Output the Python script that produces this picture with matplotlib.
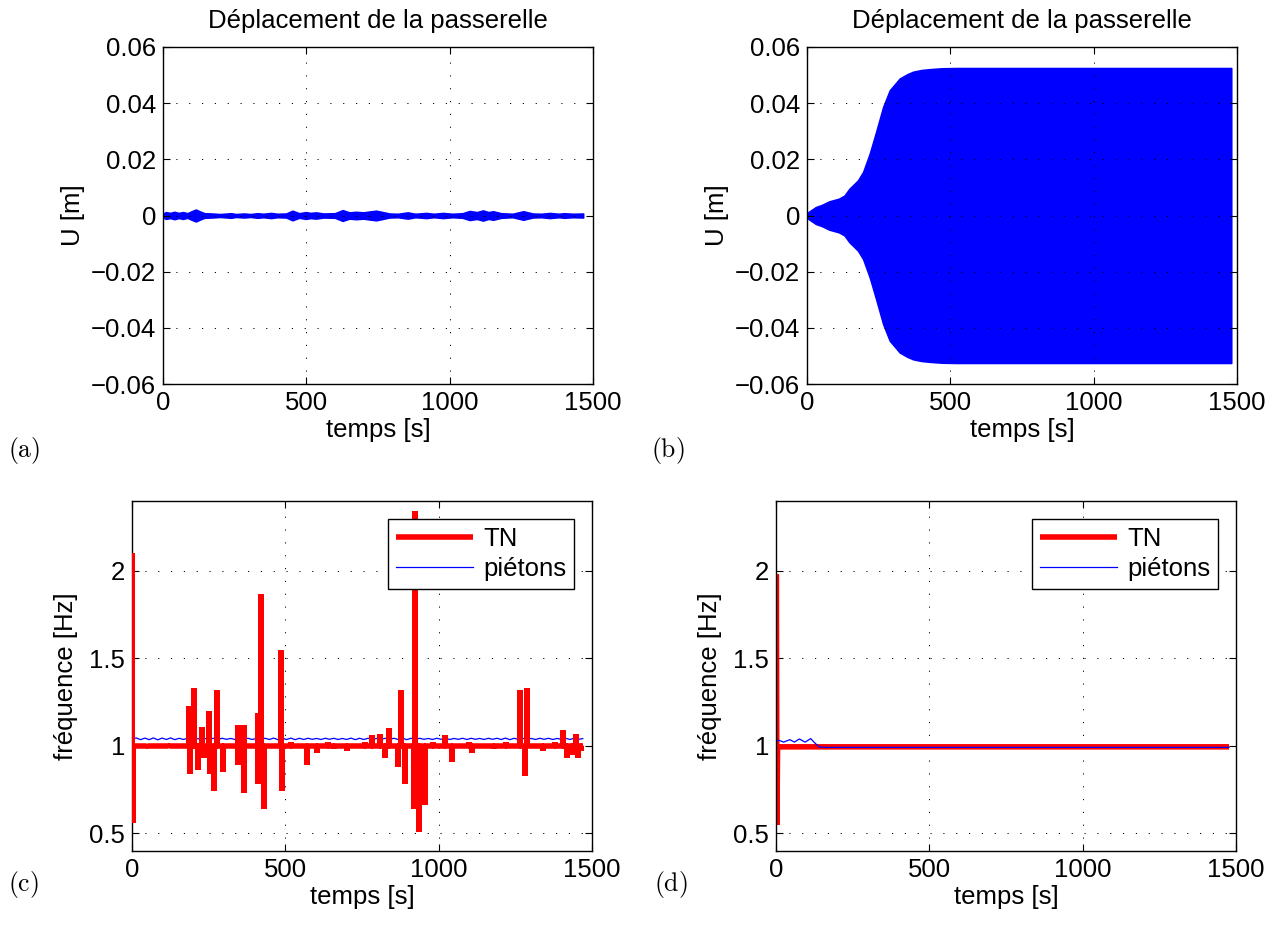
import numpy as np
import matplotlib
matplotlib.use("Agg")
import matplotlib.pyplot as plt

plt.rcParams["font.family"] = ["Liberation Sans", "DejaVu Sans"]
plt.rcParams["mathtext.fontset"] = "cm"

# (a) displacement envelope (time [s], amplitude [m])
env_a_t = [0, 10, 25, 40, 55, 70, 85, 100, 115, 130, 145, 170, 200, 237, 255, 283, 305,
           330, 350, 377, 400, 430, 452, 475, 499, 515, 534, 560, 600, 627, 650, 674,
           700, 720, 744, 767, 790, 820, 854, 880, 919, 945, 977, 1010, 1045, 1070,
           1095, 1117, 1135, 1152, 1180, 1220, 1257, 1290, 1320, 1350, 1380, 1400,
           1430, 1466]
env_a_amp = [0.0006, 0.0012, 0.0009, 0.0013, 0.0009, 0.0012, 0.0008, 0.0015, 0.0021,
             0.0014, 0.0008, 0.0007, 0.0005, 0.0008, 0.0005, 0.0007, 0.0005, 0.0008,
             0.0006, 0.0009, 0.0006, 0.0007, 0.0017, 0.0008, 0.0012, 0.0009, 0.0011,
             0.0007, 0.0008, 0.0019, 0.0011, 0.0013, 0.0011, 0.0014, 0.0017, 0.0012,
             0.0007, 0.0006, 0.0011, 0.0006, 0.0009, 0.0006, 0.0009, 0.0006, 0.0008,
             0.0016, 0.0012, 0.0018, 0.0012, 0.0015, 0.0008, 0.0006, 0.0015, 0.0007,
             0.0006, 0.0009, 0.0006, 0.0008, 0.0006, 0.0007]

# (b) displacement envelope (time [s], amplitude [m])
env_b_t = [0, 5, 31, 53, 77, 112, 131, 148, 178, 196, 219, 242, 266, 289, 324, 350,
           371, 400, 429, 470, 522, 1000, 1480]
env_b_amp = [0.0, 0.0012, 0.003, 0.0038, 0.005, 0.006, 0.0071, 0.0095, 0.0125, 0.0155,
             0.022, 0.030, 0.0387, 0.0446, 0.0488, 0.0503, 0.0512, 0.0518, 0.0521,
             0.0524, 0.0525, 0.0525, 0.0525]

# (c) TN frequency: base level and spikes (time [s], frequency [Hz])
tn_c_base = 1.0
tn_c_end = 1470
tn_c_spike_t = [1, 3, 50, 120, 187, 190, 201, 216, 228, 236, 252, 254, 267, 276, 297,
                345, 347, 364, 366, 410, 412, 420, 430, 486, 488, 520, 572, 602, 640,
                660, 700, 760, 782, 809, 825, 839, 869, 876, 890, 921, 924, 935, 955,
                980, 1021, 1042, 1100, 1110, 1180, 1220, 1265, 1282, 1289, 1340, 1380,
                1407, 1420, 1435, 1448, 1455, 1465]
tn_c_spike_v = [2.1, 0.56, 1.01, 0.99, 1.23, 0.84, 1.33, 0.86, 1.11, 0.93, 1.2, 0.84,
                0.74, 1.32, 0.85, 1.12, 0.89, 1.12, 0.73, 1.19, 0.78, 1.87, 0.64, 1.55,
                0.74, 1.02, 0.89, 0.96, 1.02, 0.98, 0.97, 1.02, 1.06, 1.07, 0.93, 1.1,
                0.88, 1.32, 0.78, 0.64, 2.34, 0.51, 0.66, 1.02, 1.06, 0.91, 1.02, 0.96,
                0.98, 1.02, 1.32, 0.83, 1.33, 0.97, 1.02, 1.09, 0.93, 0.95, 1.07, 0.93,
                0.97]

# (c) pedestrians frequency, sampled every 14 s
pietons_c = [
    1.040, 1.046, 1.036, 1.045, 1.036, 1.046, 1.035, 1.045, 1.037, 1.046,
    1.036, 1.044, 1.037, 1.045, 1.038, 1.044, 1.037, 1.043, 1.038, 1.044,
    1.037, 1.044, 1.038, 1.043, 1.037, 1.044, 1.038, 1.044, 1.037, 1.043,
    1.038, 1.044, 1.037, 1.045, 1.036, 1.044, 1.037, 1.045, 1.036, 1.044,
    1.037, 1.044, 1.038, 1.043, 1.037, 1.044, 1.038, 1.044, 1.037, 1.043,
    1.037, 1.045, 1.036, 1.044, 1.037, 1.044, 1.038, 1.043, 1.037, 1.044,
    1.038, 1.044, 1.037, 1.045, 1.036, 1.044, 1.037, 1.044, 1.038, 1.043,
    1.037, 1.044, 1.038, 1.044, 1.037, 1.043, 1.038, 1.044, 1.037, 1.044,
    1.038, 1.043, 1.037, 1.044, 1.038, 1.044, 1.037, 1.045, 1.036, 1.044,
    1.037, 1.044, 1.038, 1.043, 1.037, 1.044, 1.038, 1.044, 1.037, 1.043,
    1.038, 1.044, 1.037, 1.044, 1.038, 1.042]
pietons_c_dt = 14

# (d) TN and pedestrians frequency
tn_d_t = [0, 1, 3, 5, 1477]
tn_d_v = [1.0, 1.98, 0.55, 0.995, 0.995]
pietons_d_t = [0, 10, 25, 45, 60, 76, 95, 113, 125, 140, 160, 1477]
pietons_d_v = [1.03, 1.032, 1.022, 1.036, 1.022, 1.04, 1.022, 1.042, 1.02, 0.995,
               0.992, 0.992]

time_ticks = [0, 500, 1000, 1500]
u_ticks = [-0.06, -0.04, -0.02, 0, 0.02, 0.04, 0.06]
u_labels = ["\u22120.06", "\u22120.04", "\u22120.02", "0", "0.02", "0.04", "0.06"]
f_ticks = [0.5, 1, 1.5, 2]
f_labels = ["0.5", "1", "1.5", "2"]

FS = 18.5
grid_style = dict(color="black", linestyle=(0, (1.2, 12)), linewidth=0.7)

fig = plt.figure(figsize=(12.85, 9.38), dpi=100)


def style_axes(ax):
    ax.set_xlim(0, 1500)
    ax.set_xticks(time_ticks)
    ax.set_xticklabels([str(v) for v in time_ticks])
    ax.tick_params(direction="in", top=True, right=True, length=5, width=0.8,
                   labelsize=FS, pad=5)
    ax.grid(True, **grid_style)
    for s in ax.spines.values():
        s.set_linewidth(1.0)
    ax.set_xlabel("temps [s]", fontsize=FS, labelpad=2)


ax_a = fig.add_axes([0.1268, 0.5906, 0.3346, 0.3593])
ax_a.fill_between(env_a_t, -np.array(env_a_amp), env_a_amp, color="blue",
                  linewidth=1.2, edgecolor="blue")
ax_a.set_ylim(-0.06, 0.06)
ax_a.set_yticks(u_ticks)
ax_a.set_yticklabels(u_labels)
style_axes(ax_a)
ax_a.set_ylabel("U [m]", fontsize=FS)
ax_a.set_title("Déplacement de la passerelle", fontsize=FS, pad=14)

ax_b = fig.add_axes([0.6280, 0.5906, 0.3346, 0.3593])
ax_b.fill_between(env_b_t, -np.array(env_b_amp), env_b_amp, color="blue",
                  linewidth=1.2, edgecolor="blue")
ax_b.set_ylim(-0.06, 0.06)
ax_b.set_yticks(u_ticks)
ax_b.set_yticklabels(u_labels)
style_axes(ax_b)
ax_b.set_ylabel("U [m]", fontsize=FS)
ax_b.set_title("Déplacement de la passerelle", fontsize=FS, pad=14)

# build the TN series of (c) from base level and vertical spikes
tn_c_t = [0]
tn_c_v = [tn_c_base]
for t, v in zip(tn_c_spike_t, tn_c_spike_v):
    tn_c_t += [t, t, t]
    tn_c_v += [tn_c_base, v, tn_c_base]
tn_c_t.append(tn_c_end)
tn_c_v.append(tn_c_base)
pietons_c_t = np.arange(len(pietons_c)) * pietons_c_dt

ax_c = fig.add_axes([0.1027, 0.0928, 0.3580, 0.3731])
ax_c.plot(tn_c_t, tn_c_v, color="red", linewidth=4, label="TN", zorder=3,
          solid_joinstyle="bevel", solid_capstyle="butt")
ax_c.plot(pietons_c_t, pietons_c, color="blue", linewidth=0.9, label="piétons",
          zorder=2)
ax_c.set_ylim(0.4, 2.4)
ax_c.set_yticks(f_ticks)
ax_c.set_yticklabels(f_labels)
style_axes(ax_c)
ax_c.set_ylabel("fréquence [Hz]", fontsize=FS, labelpad=8)

ax_d = fig.add_axes([0.6039, 0.0928, 0.3580, 0.3731])
ax_d.plot(tn_d_t, tn_d_v, color="red", linewidth=4, label="TN",
          solid_joinstyle="bevel", solid_capstyle="butt")
ax_d.plot(pietons_d_t, pietons_d_v, color="blue", linewidth=0.9, label="piétons")
ax_d.set_ylim(0.4, 2.4)
ax_d.set_yticks(f_ticks)
ax_d.set_yticklabels(f_labels)
style_axes(ax_d)
ax_d.set_ylabel("fréquence [Hz]", fontsize=FS, labelpad=8)

for ax in [ax_c, ax_d]:
    leg = ax.legend(loc="upper right", fontsize=FS, fancybox=False, framealpha=1,
                    edgecolor="black", handlelength=3.0, handletextpad=0.4,
                    borderpad=0.3, labelspacing=0.25, borderaxespad=0.7)
    leg.get_frame().set_linewidth(1.0)

fig.text(0.006, 0.520, r"$\mathrm{(a)}$", fontsize=FS, va="center")
fig.text(0.507, 0.520, r"$\mathrm{(b)}$", fontsize=FS, va="center")
fig.text(0.006, 0.057, r"$\mathrm{(c)}$", fontsize=FS, va="center")
fig.text(0.509, 0.057, r"$\mathrm{(d)}$", fontsize=FS, va="center")

fig.savefig("out.png", dpi=100)
